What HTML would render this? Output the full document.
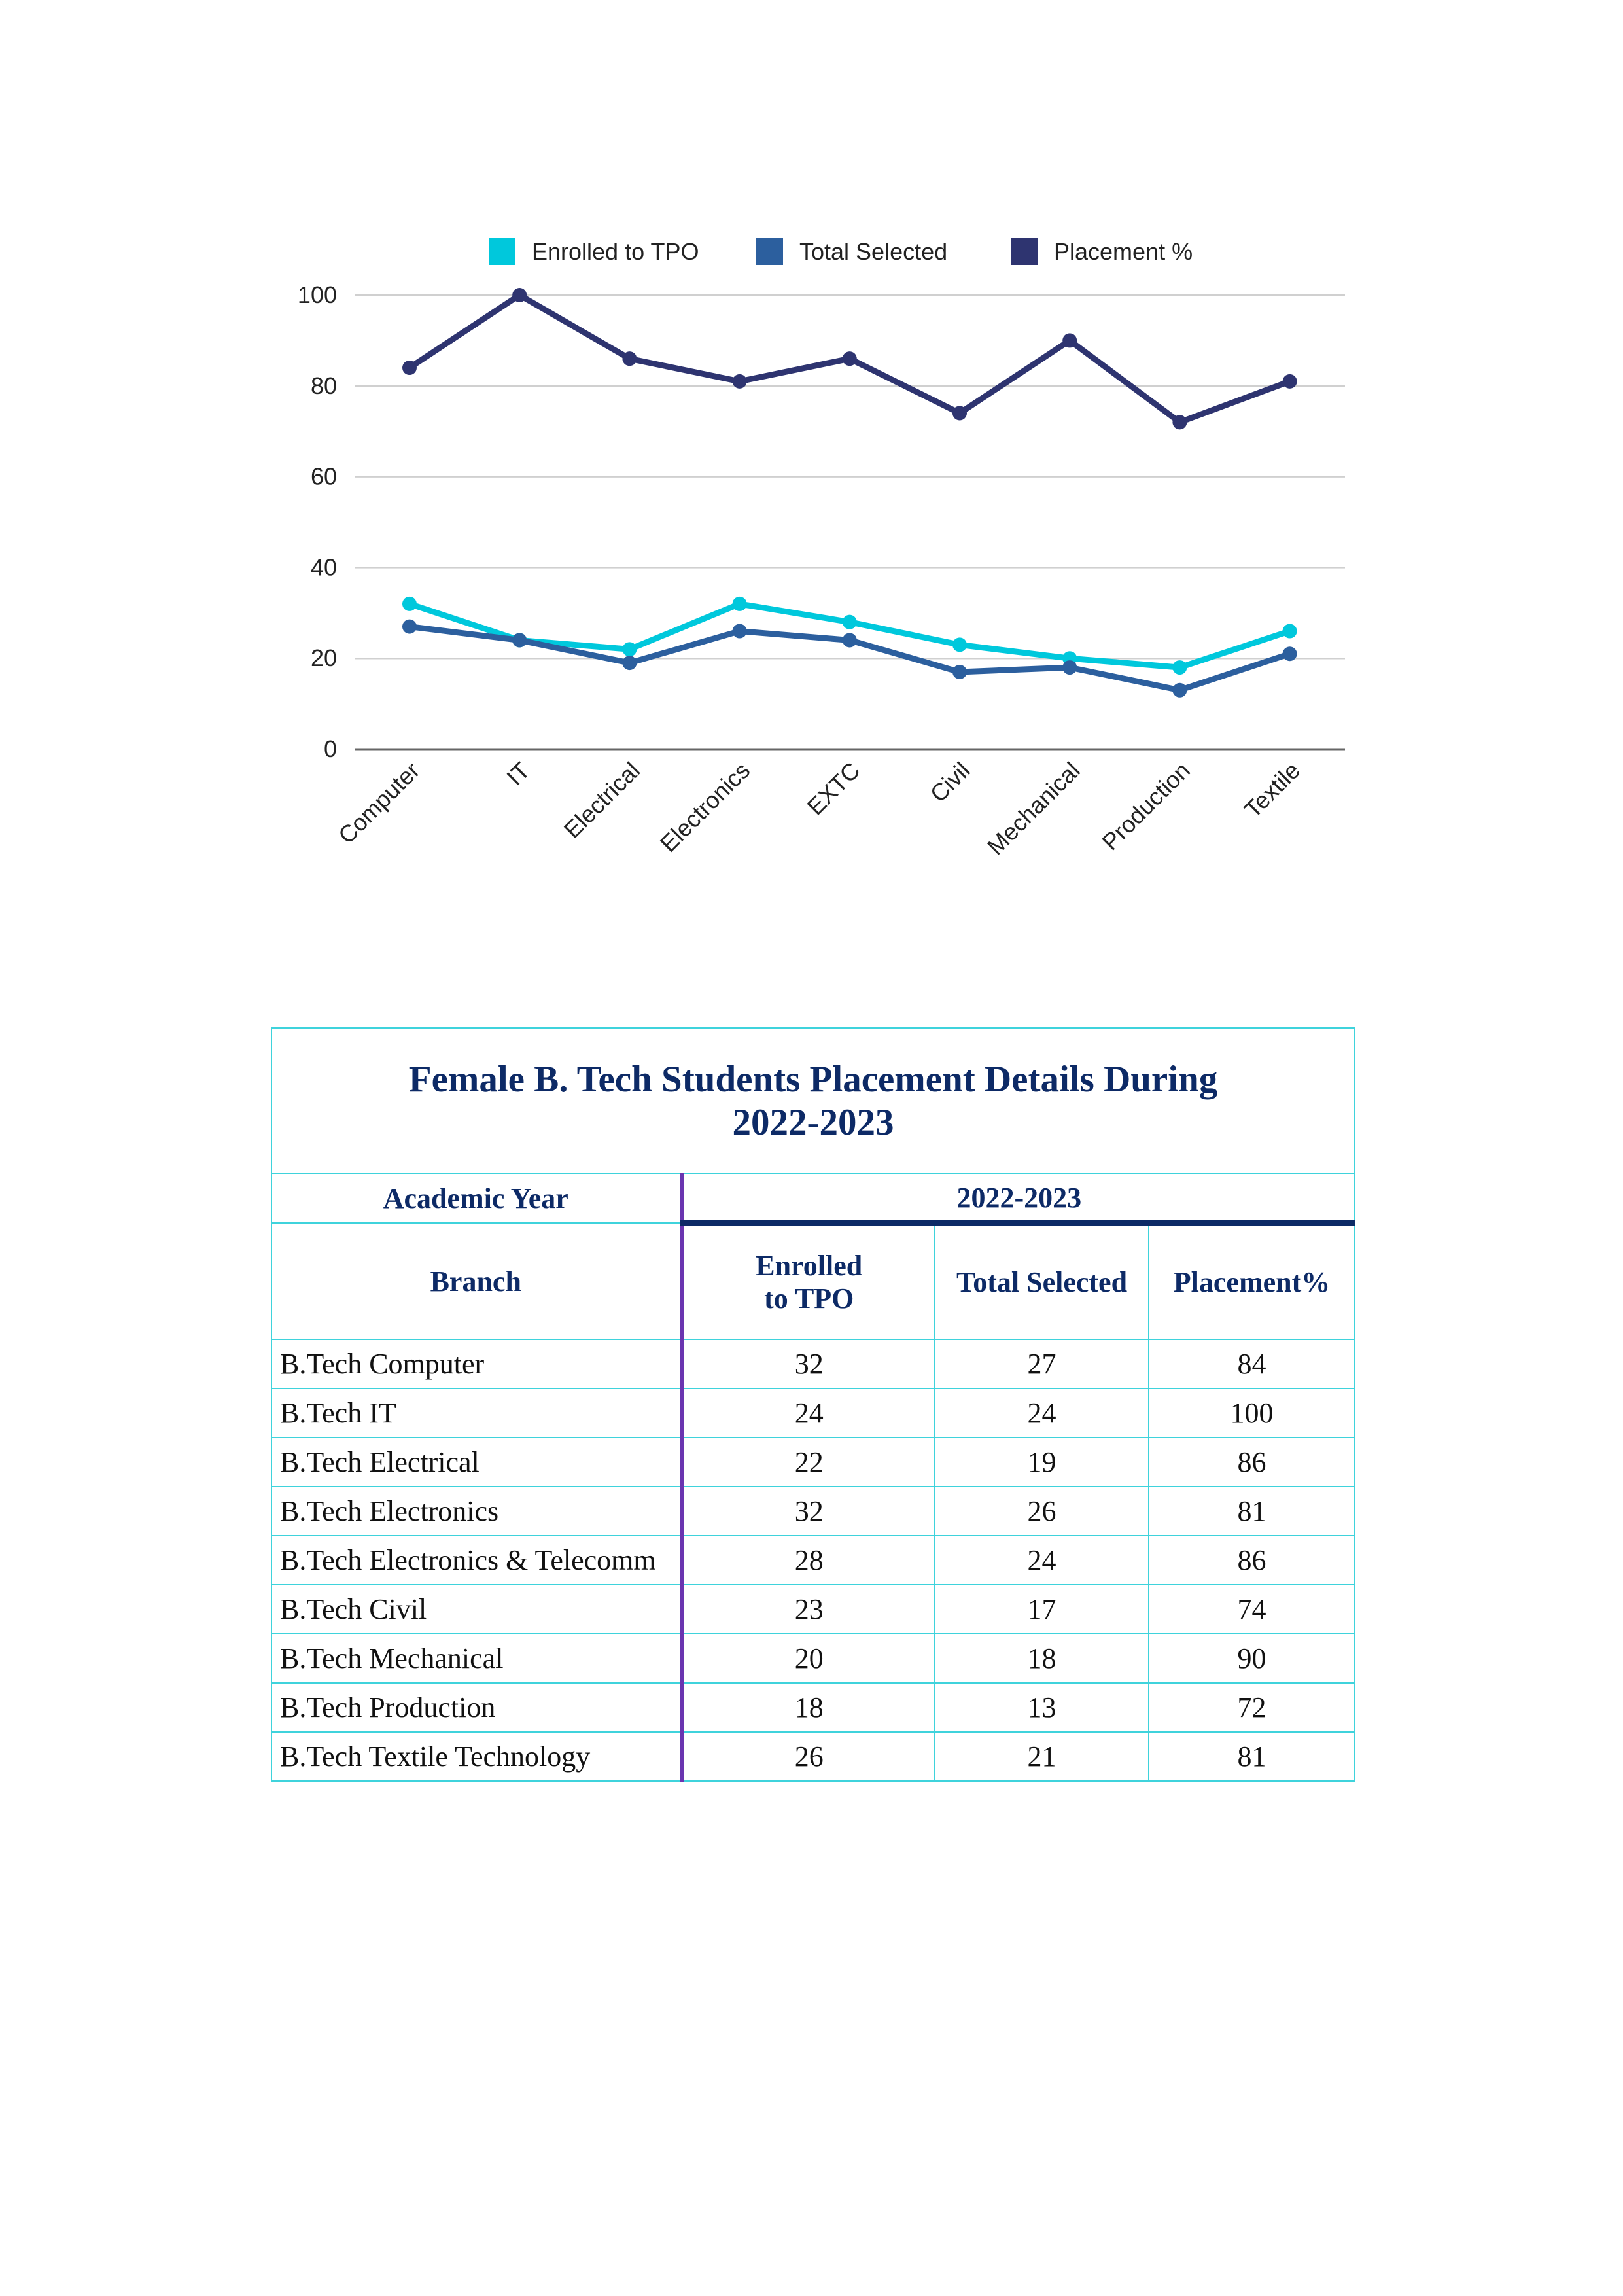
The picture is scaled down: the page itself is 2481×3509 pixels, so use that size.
<!DOCTYPE html>
<html><head><meta charset="utf-8">
<style>
html,body{margin:0;padding:0;background:#fff;}
body{width:2481px;height:3509px;position:relative;overflow:hidden;font-family:"Liberation Sans",sans-serif;}
#chart{position:absolute;left:0;top:0;}
table{position:absolute;left:414px;top:1570px;width:1656px;border-collapse:collapse;font-family:"Liberation Serif",serif;table-layout:fixed;}
td{border:2px solid #3fd3dc;text-align:center;font-size:44px;color:#111;padding:0;}
.h{color:#0d2a66;font-weight:bold;}
.l{text-align:left;padding-left:12px;white-space:nowrap;}
.pv{border-right:7px solid #6a35b0;}
</style></head><body>
<svg id="chart" width="2481" height="1450"></svg>
<table>
<colgroup><col style="width:627px"><col style="width:387px"><col style="width:327px"><col style="width:315px"></colgroup>
<tr style="height:223px"><td colspan="4" class="h" style="font-size:57px;line-height:66px">Female B. Tech Students Placement Details During<br>2022-2023</td></tr>
<tr style="height:75px"><td class="h pv">Academic Year</td><td colspan="3" class="h" style="border-bottom:8px solid #0d2a66">2022-2023</td></tr>
<tr style="height:178px"><td class="h pv">Branch</td><td class="h" style="line-height:50px">Enrolled<br>to TPO</td><td class="h">Total Selected</td><td class="h">Placement%</td></tr>
<tbody id="tb"></tbody>
</table>
<script>
const categories=["Computer","IT","Electrical","Electronics","EXTC","Civil","Mechanical","Production","Textile"];
const branches=["B.Tech Computer","B.Tech IT","B.Tech Electrical","B.Tech Electronics","B.Tech Electronics & Telecomm","B.Tech Civil","B.Tech Mechanical","B.Tech Production","B.Tech Textile Technology"];
const enrolled=[32,24,22,32,28,23,20,18,26];
const selected=[27,24,19,26,24,17,18,13,21];
const placement=[84,100,86,81,86,74,90,72,81];
const yTicks=[0,20,40,60,80,100];
const NS="http://www.w3.org/2000/svg";
const svg=document.getElementById('chart');
const X0=542,X1=2056,Y0=1145,Y1=451,cx0=626,step=168.2;
const xs=i=>cx0+i*step, ys=v=>Y0-(v/100)*(Y0-Y1);
function mk(t,a){const e=document.createElementNS(NS,t);for(const k in a)e.setAttribute(k,a[k]);svg.appendChild(e);return e;}
yTicks.forEach(v=>{
 const g=mk('line',{x1:X0,x2:X1,y1:ys(v),y2:ys(v),stroke:v===0?'#666':'#d0d0d0','stroke-width':v===0?3:2.5});
 
 
 const t=mk('text',{x:515,y:ys(v)+12,'text-anchor':'end','font-size':36,fill:'#222'});t.textContent=v;
 
 
});
categories.forEach((c,i)=>{
 const t=mk('text',{x:xs(i)+18,y:1180,'text-anchor':'end','font-size':36,fill:'#222',transform:`rotate(-45 ${xs(i)+18} 1180)`});t.textContent=c;
 
 
});
function series(vals,col,name){
 const p=mk('polyline',{points:vals.map((v,i)=>xs(i)+','+ys(v)).join(' '),fill:'none',stroke:col,'stroke-width':9,'stroke-linejoin':'round'});
 
 
 vals.forEach((v,i)=>{const c=mk('circle',{cx:xs(i),cy:ys(v),r:11,fill:col});
 
 });
}
series(enrolled,'#00c8dc','enrolled');
series(selected,'#2c5f9e','selected');
series(placement,'#2e3470','placement');
[["Enrolled to TPO","#00c8dc",747],["Total Selected","#2c5f9e",1156],["Placement %","#2e3470",1545]].forEach(([n,c,x])=>{
 const r=mk('rect',{x:x,y:364,width:41,height:41,fill:c});
 
 
 const t=mk('text',{x:x+66,y:397,'font-size':36,fill:'#222'});t.textContent=n;
 
 
});
const tb=document.getElementById('tb');
branches.forEach((b,i)=>{
 const tr=document.createElement('tr');tr.style.height='75px';
 
 
 tr.innerHTML=`<td class="l pv">${b.replace('&','&amp;')}</td><td>${enrolled[i]}</td><td>${selected[i]}</td><td>${placement[i]}</td>`;
 tb.appendChild(tr);
});
</script>
</body></html>
